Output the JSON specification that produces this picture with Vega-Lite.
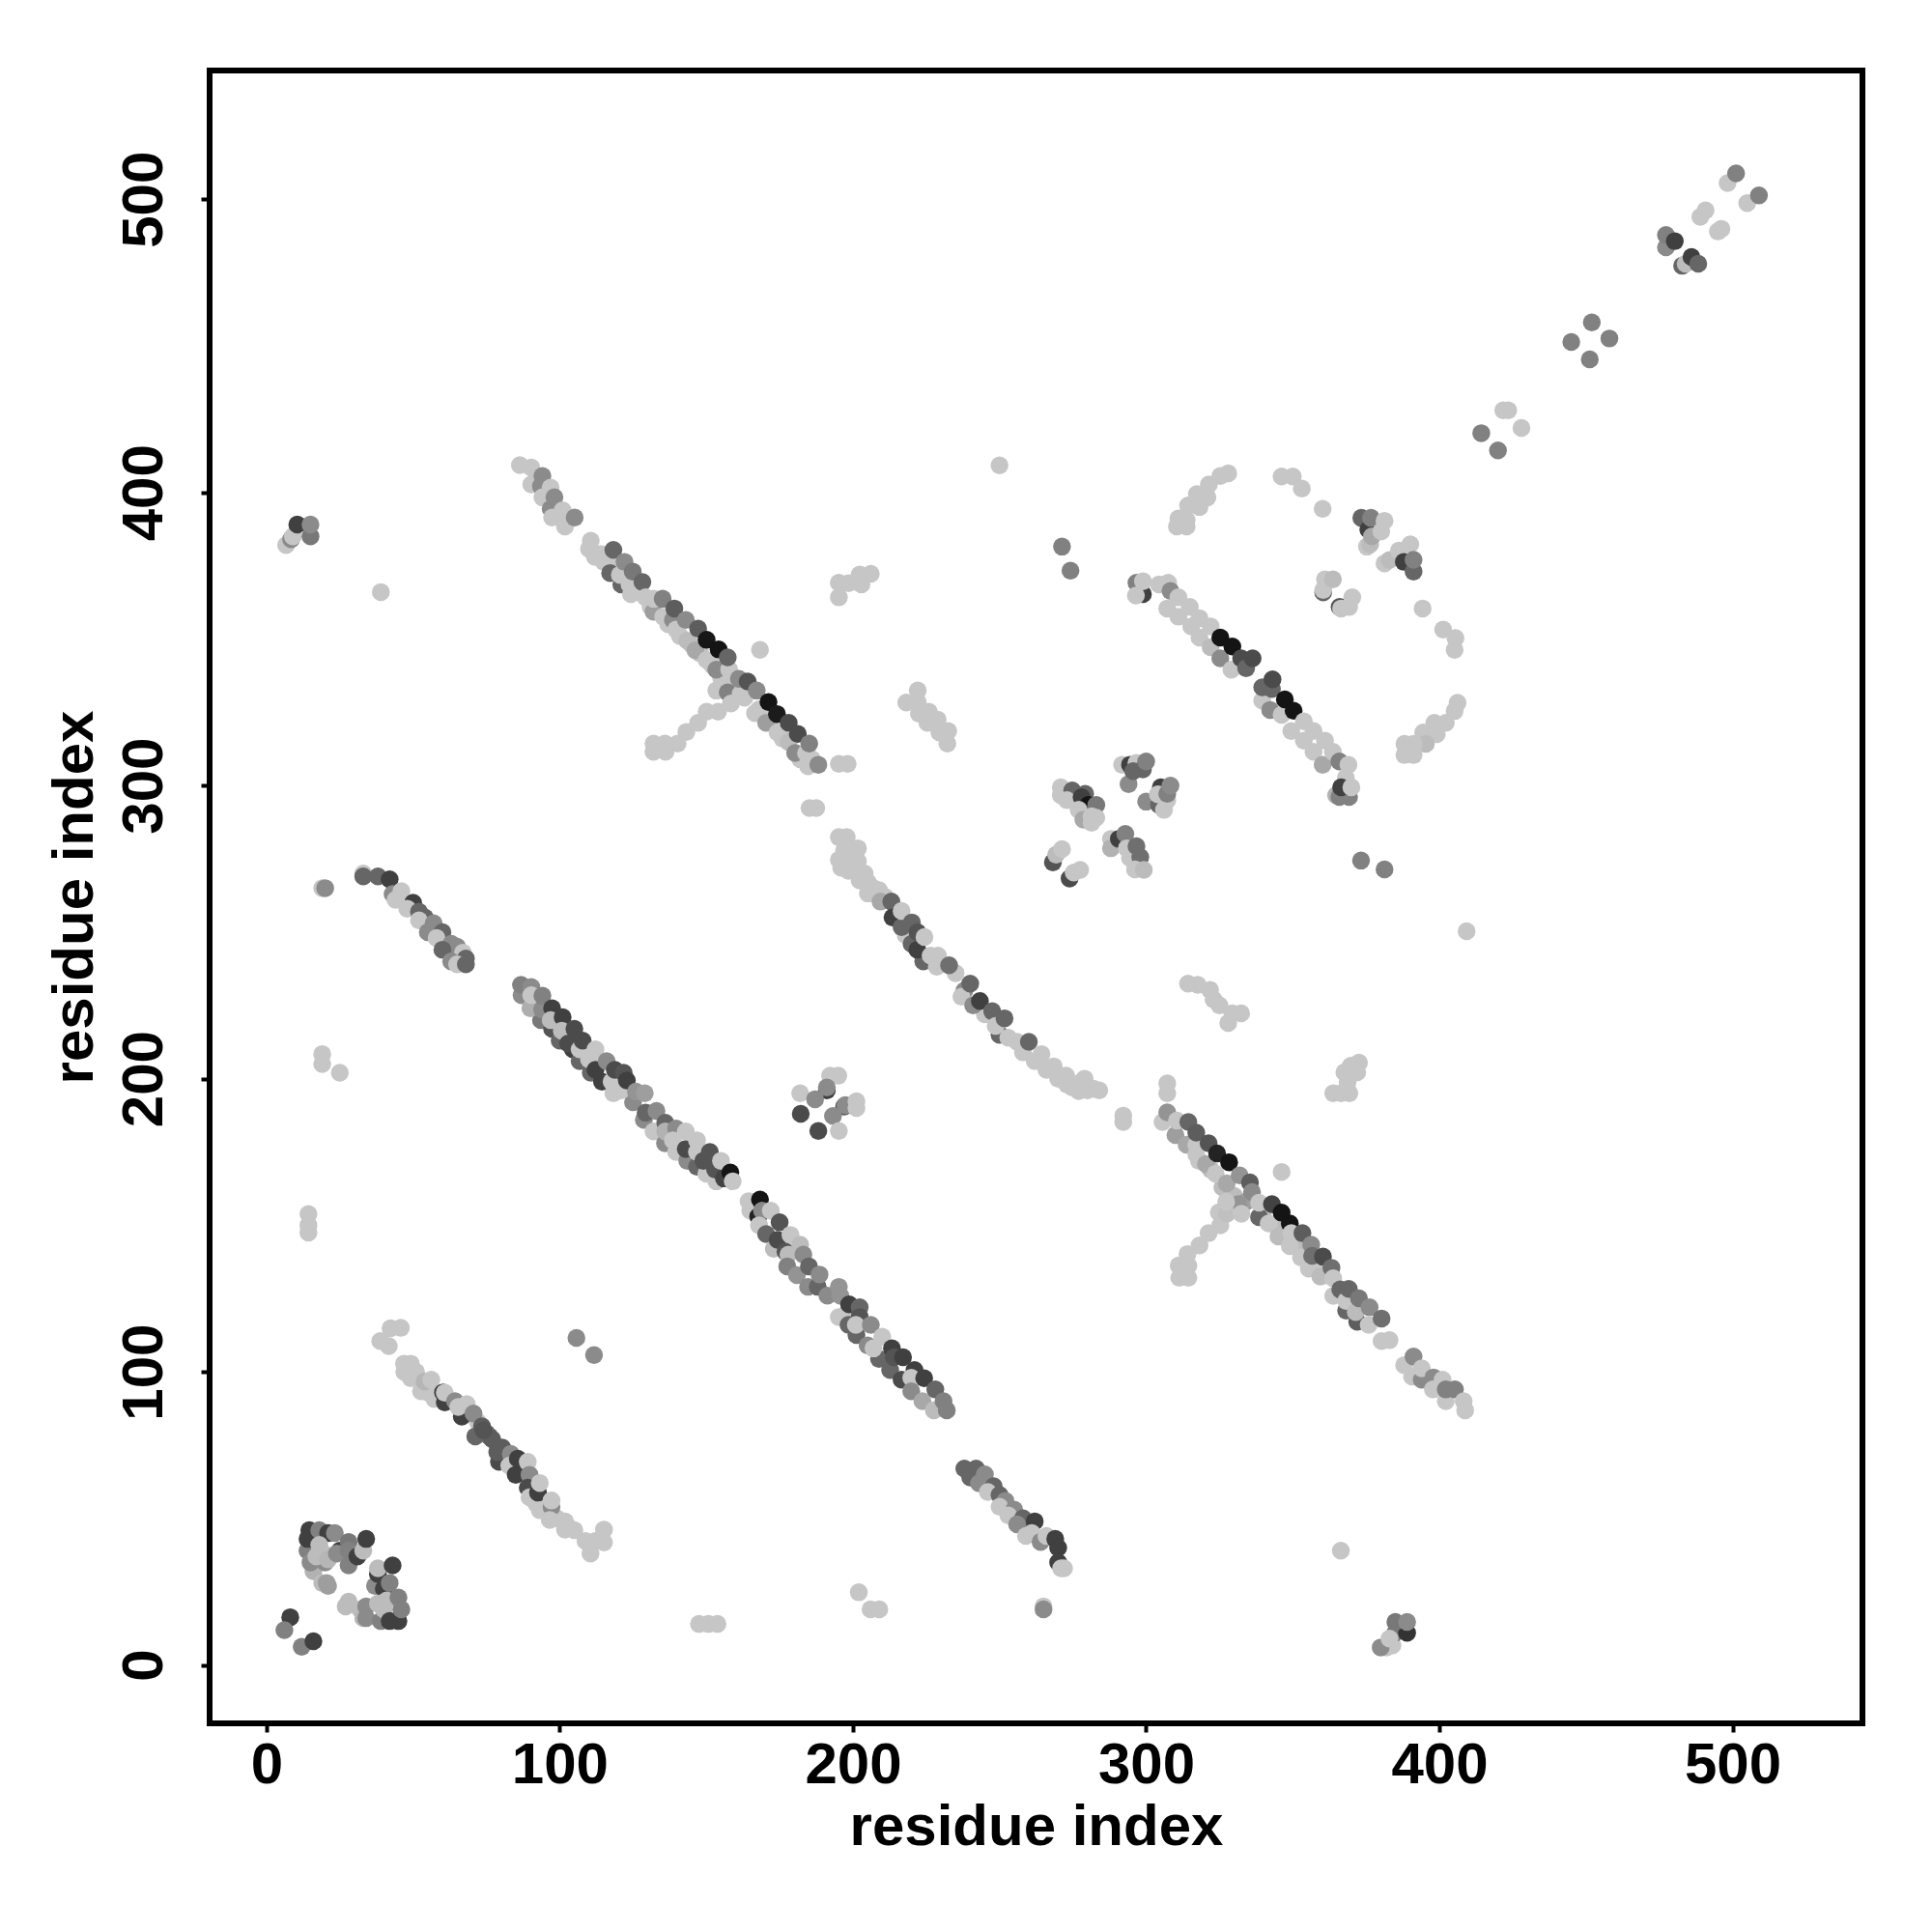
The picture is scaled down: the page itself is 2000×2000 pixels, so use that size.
{"$schema":"https://vega.github.io/schema/vega-lite/v6.json","width":1711,"height":1711,"autosize":{"type":"none"},"padding":{"left":217,"top":73,"right":72,"bottom":216},"background":"white","view":{"stroke":"black","strokeWidth":6,"fill":"white"},"config":{"font":"Liberation Sans","axis":{"grid":false,"domain":false,"tickColor":"black","tickWidth":4,"tickSize":9,"labelFontSize":60,"labelFontWeight":"bold","labelColor":"black","titleFontSize":60,"titleFontWeight":"bold","titleColor":"black","labelFont":"Liberation Sans","titleFont":"Liberation Sans"}},"data":{"values":[
{"x":197,"y":278,"v":0},{"x":199,"y":276,"v":0},{"x":196,"y":272,"v":0},{"x":204,"y":270,"v":0},{"x":200,"y":273,"v":0},{"x":207,"y":265,"v":0},{"x":211,"y":262,"v":0},{"x":218,"y":249,"v":0},{"x":220,"y":246,"v":50},{"x":224,"y":240,"v":50},{"x":229,"y":242,"v":0},{"x":235,"y":236,"v":0},{"x":238,"y":230,"v":30},{"x":245,"y":222,"v":0},{"x":250,"y":215,"v":50},{"x":253,"y":214,"v":0},{"x":258,"y":209,"v":0},{"x":262,"y":206,"v":0},{"x":266,"y":203,"v":0},{"x":270,"y":200,"v":0},{"x":273,"y":198,"v":0},{"x":280,"y":196,"v":0},{"x":284,"y":196,"v":0},{"x":278,"y":199,"v":0},
{"x":114,"y":379,"v":0},{"x":112,"y":378,"v":0},{"x":118,"y":375,"v":0},{"x":127,"y":366,"v":0},{"x":131,"y":361,"v":0},{"x":137,"y":355,"v":0},{"x":141,"y":351,"v":0},{"x":145,"y":348,"v":0},{"x":148,"y":345,"v":0},{"x":152,"y":341,"v":0},{"x":155,"y":337,"v":0},{"x":159,"y":334,"v":0},{"x":163,"y":330,"v":0},{"x":168,"y":326,"v":0},{"x":172,"y":323,"v":0},{"x":176,"y":316,"v":0},{"x":182,"y":309,"v":0},{"x":186,"y":309,"v":0},
{"x":47,"y":100,"v":0},{"x":51,"y":100,"v":0},{"x":55,"y":93,"v":0},{"x":59,"y":91,"v":0},{"x":62,"y":90,"v":0},{"x":68,"y":86,"v":0},{"x":72,"y":83,"v":0},{"x":75,"y":79,"v":50},{"x":76,"y":78,"v":50},{"x":77,"y":77,"v":55},{"x":92,"y":55,"v":0},{"x":99,"y":50,"v":0},{"x":103,"y":47,"v":0},{"x":105,"y":46,"v":0},
{"x":318,"y":172,"v":0},{"x":322,"y":169,"v":5},{"x":326,"y":163,"v":5},{"x":330,"y":160,"v":5},{"x":334,"y":158,"v":20},{"x":340,"y":155,"v":5},{"x":344,"y":150,"v":0},{"x":347,"y":149,"v":5},{"x":351,"y":144,"v":5},{"x":354,"y":141,"v":5},{"x":358,"y":136,"v":0},{"x":361,"y":133,"v":5},
{"x":8.1,"y":16.3,"v":72},{"x":6.1,"y":11.9,"v":35},{"x":12,"y":6.2,"v":35},{"x":16,"y":8.1,"v":72},
{"x":14,"y":39,"v":35},{"x":14.6,"y":46,"v":72},{"x":14,"y":43,"v":72},{"x":18,"y":46,"v":35},{"x":21,"y":45,"v":72},{"x":16,"y":32,"v":10},{"x":15,"y":35,"v":30},{"x":20,"y":35,"v":30},{"x":23.3,"y":45,"v":30},{"x":18,"y":41,"v":5},{"x":19.5,"y":38,"v":5},{"x":17,"y":37,"v":5},{"x":21,"y":36,"v":8},{"x":19,"y":28,"v":5},{"x":20.5,"y":28,"v":20},{"x":21,"y":27,"v":20},{"x":25,"y":39,"v":72},{"x":24,"y":38,"v":30},{"x":28,"y":42,"v":40},{"x":28,"y":39,"v":35},{"x":28,"y":34,"v":35},{"x":31,"y":37,"v":72},{"x":33,"y":39,"v":5},{"x":34,"y":43,"v":72},
{"x":37,"y":27,"v":30},{"x":38,"y":31,"v":72},{"x":40,"y":26,"v":72},{"x":38,"y":33,"v":5},{"x":42,"y":28,"v":35},{"x":43,"y":34,"v":72},
{"x":28,"y":21.6,"v":5},{"x":27,"y":20,"v":5},{"x":32,"y":19,"v":5},{"x":33,"y":16,"v":8},{"x":34,"y":20,"v":30},{"x":34,"y":16,"v":30},{"x":39,"y":15,"v":35},{"x":38,"y":21,"v":5},{"x":41,"y":22,"v":5},{"x":40,"y":19,"v":5},{"x":45,"y":23,"v":35},{"x":42,"y":15,"v":72},{"x":45,"y":15,"v":72},{"x":46,"y":19,"v":35},
{"x":33,"y":270,"v":0},{"x":33,"y":269,"v":50},{"x":38,"y":269,"v":50},{"x":42,"y":268,"v":72},{"x":43,"y":263,"v":30},{"x":46,"y":264,"v":0},{"x":44,"y":261,"v":0},{"x":50,"y":260,"v":72},{"x":48,"y":258,"v":0},{"x":52,"y":257,"v":50},{"x":54,"y":255,"v":50},{"x":52,"y":254,"v":0},{"x":57,"y":253,"v":30},{"x":55,"y":250,"v":30},{"x":60,"y":250,"v":50},{"x":58,"y":248,"v":0},{"x":63,"y":246,"v":30},{"x":65,"y":245,"v":30},{"x":60,"y":244,"v":50},{"x":67,"y":243,"v":0},{"x":63,"y":240,"v":30},{"x":68,"y":241,"v":50},{"x":65,"y":239,"v":0},{"x":68,"y":239,"v":50},{"x":19,"y":265,"v":0},{"x":20,"y":265,"v":30},
{"x":87,"y":228.5,"v":30},{"x":93.6,"y":220,"v":40},{"x":97.4,"y":217,"v":60},{"x":100,"y":213,"v":50},{"x":104.5,"y":210,"v":72},{"x":106.8,"y":206,"v":50},{"x":110.6,"y":202,"v":50},{"x":114.4,"y":199,"v":72},{"x":118.3,"y":195,"v":0},{"x":125,"y":192,"v":30},{"x":128.7,"y":186,"v":30},{"x":132,"y":182,"v":0},{"x":135.9,"y":178,"v":30},{"x":139.7,"y":175,"v":0},{"x":143.5,"y":172,"v":30},{"x":146.8,"y":170,"v":50},{"x":150,"y":167.6,"v":0},{"x":153.4,"y":165,"v":0},
{"x":86.8,"y":232,"v":35},{"x":90.3,"y":231.3,"v":30},{"x":90,"y":224,"v":12},{"x":94,"y":223.6,"v":30},{"x":90.3,"y":228.5,"v":0},{"x":94.1,"y":228.3,"v":35},{"x":97.4,"y":224,"v":72},{"x":96.9,"y":220,"v":5},{"x":101,"y":221,"v":72},{"x":100.7,"y":216.4,"v":5},{"x":102.9,"y":212,"v":65},{"x":105,"y":217,"v":65},{"x":106.8,"y":210,"v":0},{"x":107.8,"y":213,"v":65},{"x":110,"y":206.6,"v":0},{"x":112.2,"y":203,"v":72},{"x":112.2,"y":210,"v":0},{"x":116,"y":206,"v":30},{"x":117.7,"y":199,"v":0},{"x":118.8,"y":203,"v":65},{"x":121,"y":196,"v":0},{"x":121.8,"y":202,"v":60},{"x":122.9,"y":199.4,"v":72},{"x":126,"y":195.6,"v":25},{"x":129,"y":195,"v":20},{"x":129.3,"y":188.4,"v":50},{"x":133,"y":189,"v":30},{"x":136,"y":185,"v":50},{"x":136,"y":182,"v":10},{"x":139.7,"y":183,"v":30},{"x":138.6,"y":179,"v":0},{"x":143,"y":176,"v":65},{"x":143,"y":182,"v":0},{"x":146.8,"y":175,"v":0},{"x":146.8,"y":179,"v":0},{"x":149,"y":172,"v":60},{"x":151.2,"y":175,"v":60},{"x":153,"y":169,"v":60},{"x":155,"y":172,"v":0},{"x":156,"y":166,"v":70},{"x":158.2,"y":168,"v":100},{"x":159,"y":165,"v":0},
{"x":165,"y":155,"v":0},{"x":164.4,"y":158.2,"v":0},{"x":168.3,"y":158.8,"v":100},{"x":167.7,"y":153,"v":90},{"x":169,"y":155,"v":30},{"x":168,"y":150,"v":0},{"x":172,"y":155,"v":0},{"x":175,"y":151,"v":60},{"x":170.4,"y":147,"v":50},{"x":173,"y":142,"v":5},{"x":174.3,"y":145,"v":65},{"x":178.7,"y":146.7,"v":0},{"x":177,"y":141,"v":60},{"x":182,"y":143.4,"v":5},{"x":178,"y":140,"v":5},{"x":183.1,"y":140,"v":30},{"x":177.6,"y":136,"v":35},{"x":180.9,"y":133,"v":25},{"x":185,"y":136,"v":50},{"x":184.7,"y":129,"v":30},{"x":188,"y":129,"v":50},{"x":188.6,"y":133.2,"v":30},{"x":191.3,"y":126,"v":30},{"x":195.2,"y":129,"v":25},{"x":195.7,"y":126,"v":25},{"x":195.2,"y":118.7,"v":0},{"x":197.9,"y":120,"v":0},{"x":198.5,"y":116,"v":50},{"x":198.7,"y":123,"v":72},{"x":201.2,"y":112.6,"v":50},{"x":202.3,"y":122,"v":50},{"x":202.3,"y":118.7,"v":60},{"x":201,"y":116,"v":0},{"x":205,"y":109,"v":30},{"x":206.1,"y":116,"v":30},{"x":208.9,"y":104.4,"v":50},{"x":210,"y":112,"v":0},{"x":207,"y":108,"v":0},{"x":213.3,"y":108,"v":72},{"x":212.7,"y":100.6,"v":50},{"x":214,"y":105,"v":60},{"x":217.1,"y":105,"v":72},{"x":216.6,"y":97.3,"v":65},{"x":221,"y":100.6,"v":72},{"x":219.9,"y":98,"v":0},{"x":224.3,"y":97.8,"v":72},{"x":219.9,"y":93.4,"v":30},{"x":223.7,"y":90,"v":15},{"x":228.1,"y":94,"v":50},{"x":227.6,"y":86.9,"v":5},{"x":230.9,"y":90,"v":35},{"x":232,"y":86.9,"v":35},
{"x":192.2,"y":201,"v":0},{"x":195,"y":201,"v":0},{"x":191.1,"y":196,"v":72},{"x":191.1,"y":197,"v":30},{"x":182,"y":195,"v":0},{"x":187.1,"y":193,"v":30},{"x":197,"y":190.5,"v":60},{"x":197.4,"y":191,"v":30},{"x":201.2,"y":192.3,"v":0},{"x":201.2,"y":190,"v":0},{"x":182.2,"y":188,"v":65},{"x":193.2,"y":187.3,"v":30},{"x":188.2,"y":182.2,"v":65},{"x":195.2,"y":182.2,"v":0},{"x":105.7,"y":111.6,"v":30},{"x":111.7,"y":105.7,"v":30},
{"x":42.3,"y":114.9,"v":0},{"x":45.8,"y":115,"v":0},{"x":38.8,"y":110.5,"v":0},{"x":41.7,"y":108.8,"v":0},{"x":46.9,"y":102.8,"v":0},{"x":49.2,"y":102.8,"v":0},{"x":49.2,"y":97.8,"v":0},{"x":52.7,"y":93.4,"v":0},{"x":53.9,"y":96.7,"v":8},{"x":56.2,"y":97.3,"v":0},{"x":57.3,"y":90.7,"v":0},{"x":60.2,"y":93,"v":72},{"x":60.8,"y":89.6,"v":72},{"x":60.8,"y":92.9,"v":0},{"x":64.3,"y":90,"v":30},{"x":66.6,"y":84.7,"v":72},{"x":65.4,"y":88,"v":0},{"x":68.3,"y":89,"v":0},{"x":70.6,"y":85.8,"v":30},{"x":71.2,"y":78,"v":50},{"x":73.5,"y":81.4,"v":55},{"x":74,"y":80,"v":60},{"x":79.3,"y":69.3,"v":65},{"x":78.7,"y":72.6,"v":55},{"x":80.4,"y":74.2,"v":55},{"x":83.3,"y":72,"v":30},{"x":82.8,"y":68,"v":0},{"x":85,"y":64.9,"v":72},{"x":85.7,"y":70.4,"v":72},{"x":89.1,"y":69.3,"v":0},{"x":89.7,"y":64.9,"v":30},{"x":89.1,"y":60.5,"v":65},{"x":89.7,"y":57.2,"v":0},{"x":92.6,"y":58.8,"v":72},{"x":93.2,"y":62.1,"v":0},{"x":93.2,"y":52.8,"v":0},{"x":97.2,"y":53.9,"v":30},{"x":97.2,"y":56.1,"v":0},{"x":96.6,"y":49.5,"v":0},{"x":101.8,"y":49,"v":0},{"x":101.8,"y":46.2,"v":0},{"x":108.8,"y":42.3,"v":0},{"x":112.2,"y":42.3,"v":0},{"x":115.1,"y":46.2,"v":0},{"x":115.1,"y":41.8,"v":0},{"x":110.5,"y":38,"v":0},{"x":147.5,"y":14,"v":0},{"x":150.7,"y":14,"v":0},{"x":153.8,"y":14,"v":0},
{"x":238,"y":67,"v":50},{"x":242,"y":67,"v":50},{"x":240,"y":64,"v":50},{"x":245,"y":65,"v":30},{"x":243,"y":62,"v":30},{"x":248,"y":61,"v":50},{"x":246,"y":59,"v":0},{"x":250,"y":58,"v":50},{"x":252,"y":56,"v":30},{"x":250,"y":54,"v":0},{"x":255,"y":53,"v":30},{"x":253,"y":51,"v":0},{"x":258,"y":50,"v":50},{"x":256,"y":48,"v":30},{"x":262,"y":49,"v":72},{"x":259,"y":44,"v":0},{"x":261,"y":45,"v":0},{"x":264,"y":42,"v":30},{"x":266,"y":44,"v":0},{"x":269,"y":43,"v":72},{"x":270,"y":40,"v":72},{"x":270,"y":35,"v":72},{"x":271,"y":33,"v":0},{"x":272,"y":33,"v":0},{"x":265,"y":20,"v":0},{"x":265,"y":19,"v":30},{"x":366.4,"y":39,"v":0},{"x":382,"y":6,"v":0},{"x":384,"y":6.7,"v":0},{"x":380,"y":6,"v":30},{"x":385,"y":11,"v":40},{"x":389,"y":11,"v":80},{"x":385,"y":14.7,"v":40},{"x":389,"y":14.7,"v":30},{"x":383,"y":9,"v":0},{"x":202,"y":24.8,"v":0},{"x":206,"y":19,"v":0},{"x":209,"y":19,"v":0},{"x":39,"y":366,"v":0},{"x":14.3,"y":153.8,"v":0},{"x":14.3,"y":150,"v":0},{"x":14.3,"y":147.5,"v":0},{"x":19,"y":208.4,"v":0},{"x":19,"y":205,"v":0},{"x":25,"y":202,"v":0},{"x":6.7,"y":382,"v":0},{"x":8.4,"y":384,"v":30},{"x":9,"y":385,"v":0},{"x":10.5,"y":389,"v":72},{"x":15,"y":385,"v":40},{"x":15,"y":389,"v":30},
{"x":86.4,"y":409.3,"v":0},{"x":90.3,"y":408.5,"v":0},{"x":90.3,"y":402.7,"v":0},{"x":93.6,"y":402.1,"v":30},{"x":94.1,"y":405.6,"v":30},{"x":94.1,"y":398.3,"v":0},{"x":96.9,"y":401.6,"v":0},{"x":96.9,"y":394.4,"v":30},{"x":97.4,"y":391.4,"v":0},{"x":98.2,"y":398.3,"v":30},{"x":101.8,"y":388.4,"v":0},{"x":101,"y":393.9,"v":0},{"x":105.1,"y":391.4,"v":30},{"x":110.6,"y":383.5,"v":0},{"x":110,"y":380.7,"v":0},{"x":115,"y":376.3,"v":0},{"x":117.2,"y":372.5,"v":50},{"x":118.3,"y":380.4,"v":50},{"x":121,"y":368.6,"v":50},{"x":120.5,"y":371.9,"v":0},{"x":122.1,"y":376.3,"v":30},{"x":124.3,"y":365.3,"v":0},{"x":123.8,"y":368.6,"v":0},{"x":124.9,"y":373,"v":40},{"x":128.2,"y":369.4,"v":50},{"x":129.3,"y":364.2,"v":0},{"x":132,"y":359.3,"v":20},{"x":132,"y":363.7,"v":0},{"x":135.3,"y":357.6,"v":0},{"x":135.1,"y":363.7,"v":35},{"x":138.6,"y":356.5,"v":30},{"x":139.7,"y":353.2,"v":0},{"x":139.1,"y":360.4,"v":55},{"x":143,"y":356.5,"v":30},{"x":143.5,"y":349.4,"v":5},{"x":146.3,"y":346.1,"v":15},{"x":147.2,"y":353.5,"v":55},{"x":150.1,"y":342.8,"v":0},{"x":150.1,"y":349.7,"v":98},{"x":153.4,"y":339.5,"v":30},{"x":153.4,"y":332.4,"v":0},{"x":154.2,"y":346.4,"v":100},{"x":157.3,"y":331.8,"v":35},{"x":157.8,"y":339.5,"v":0},{"x":157.3,"y":343.7,"v":50},{"x":161.7,"y":331.3,"v":0},{"x":161.1,"y":336.4,"v":30},{"x":164.1,"y":335.5,"v":60},{"x":166.6,"y":324.7,"v":0},{"x":167.2,"y":332.4,"v":30},{"x":170.4,"y":321.4,"v":20},{"x":171.2,"y":328.5,"v":100},{"x":174.1,"y":324.4,"v":95},{"x":174.3,"y":318.1,"v":0},{"x":178.1,"y":314.8,"v":5},{"x":178.1,"y":321.4,"v":65},{"x":180.3,"y":311.1,"v":30},{"x":181.2,"y":317.6,"v":65},{"x":184,"y":311,"v":0},{"x":185.1,"y":314.3,"v":35},{"x":184.7,"y":306.6,"v":0},{"x":188.2,"y":307.1,"v":30},
{"x":132,"y":314.3,"v":0},{"x":132,"y":311.5,"v":0},{"x":135.9,"y":314.3,"v":0},{"x":136.1,"y":311.5,"v":0},{"x":140.2,"y":314.3,"v":0},{"x":143.2,"y":318.3,"v":0},{"x":147.2,"y":321.4,"v":0},{"x":150.1,"y":325.2,"v":0},{"x":154,"y":325.2,"v":0},{"x":158.4,"y":328,"v":0},{"x":168.3,"y":346.3,"v":0},{"x":195.2,"y":307.4,"v":0},{"x":198.2,"y":307.4,"v":0},{"x":185.2,"y":292.3,"v":0},{"x":187.5,"y":292.3,"v":0},{"x":195.2,"y":369.2,"v":0},{"x":195.2,"y":364.2,"v":0},{"x":198.5,"y":369,"v":0},{"x":202.3,"y":372,"v":0},{"x":206.1,"y":372.2,"v":0},{"x":202.9,"y":368.6,"v":0},{"x":222.1,"y":332.4,"v":0},{"x":218.2,"y":328.3,"v":0},{"x":222.1,"y":328.5,"v":0},{"x":225.9,"y":325.2,"v":0},{"x":222.5,"y":324.5,"v":0},{"x":228.9,"y":322.5,"v":0},{"x":225.4,"y":321.4,"v":0},{"x":232.5,"y":318.6,"v":0},{"x":229.5,"y":318.1,"v":0},{"x":232.2,"y":314.3,"v":0},
{"x":195.2,"y":282.4,"v":0},{"x":197.9,"y":282.4,"v":0},{"x":195.2,"y":274.7,"v":0},{"x":201.7,"y":278.6,"v":0},{"x":201.7,"y":274.2,"v":0},{"x":198.5,"y":270.9,"v":0},{"x":202.3,"y":267.6,"v":0},{"x":205.1,"y":267,"v":0},{"x":205.1,"y":263.2,"v":0},{"x":208.9,"y":264.3,"v":0},{"x":209.4,"y":260.4,"v":15},{"x":213.1,"y":260.4,"v":50},{"x":213.5,"y":255,"v":72},{"x":216.6,"y":251.7,"v":50},{"x":216.6,"y":257.2,"v":0},{"x":220.1,"y":253.3,"v":50},{"x":222,"y":244,"v":72},{"x":222,"y":250,"v":60},{"x":224.4,"y":248.3,"v":0},{"x":226.5,"y":242,"v":0},{"x":228.6,"y":238.2,"v":0},{"x":232.8,"y":238.7,"v":45},{"x":237,"y":228,"v":0},{"x":240,"y":232.4,"v":50},{"x":241,"y":225,"v":30},{"x":243.3,"y":226.5,"v":72},{"x":247.5,"y":223,"v":50},{"x":248.7,"y":218,"v":0},{"x":251.7,"y":220.6,"v":50},{"x":256,"y":212.6,"v":0},{"x":260,"y":212.6,"v":50},{"x":264.3,"y":208.4,"v":0},{"x":268.5,"y":204.2,"v":0},{"x":272.7,"y":201,"v":0},{"x":279,"y":200,"v":0},{"x":277,"y":195.8,"v":0},{"x":282,"y":196.6,"v":0},{"x":274.8,"y":197,"v":0},{"x":250,"y":409.2,"v":0},
{"x":296.7,"y":369.2,"v":35},{"x":298.9,"y":365.3,"v":72},{"x":296.5,"y":364.8,"v":0},{"x":298.9,"y":369.7,"v":0},{"x":304.4,"y":368.6,"v":0},{"x":307.2,"y":360.4,"v":0},{"x":307.5,"y":369.2,"v":0},{"x":308.3,"y":366.4,"v":30},{"x":311,"y":357.6,"v":0},{"x":311,"y":364.2,"v":0},{"x":314.9,"y":360.9,"v":0},{"x":315.4,"y":354.3,"v":0},{"x":318.2,"y":350.5,"v":0},{"x":318.2,"y":357.1,"v":0},{"x":322,"y":354.3,"v":0},{"x":322,"y":347.2,"v":5},{"x":325.3,"y":343.4,"v":30},{"x":325.3,"y":350.5,"v":100},{"x":329.1,"y":339.5,"v":0},{"x":329.4,"y":347.4,"v":100},{"x":332.4,"y":343.4,"v":65},{"x":334.1,"y":340,"v":50},{"x":336.3,"y":343.4,"v":65},{"x":339.6,"y":329,"v":0},{"x":339.6,"y":333.5,"v":50},{"x":342.3,"y":325.8,"v":30},{"x":342.9,"y":332.9,"v":50},{"x":343.1,"y":336.2,"v":65},{"x":346.2,"y":324.1,"v":0},{"x":347.3,"y":329.4,"v":100},{"x":349.5,"y":318.6,"v":0},{"x":350.3,"y":325.5,"v":100},{"x":353.8,"y":315.3,"v":0},{"x":353.8,"y":321.9,"v":0},{"x":357.1,"y":311.5,"v":0},{"x":357.1,"y":318.6,"v":0},{"x":360.2,"y":307.1,"v":15},{"x":361,"y":315.3,"v":0},{"x":363.7,"y":311.5,"v":0},{"x":365.9,"y":308.2,"v":35},{"x":369,"y":307.1,"v":0},{"x":368.1,"y":302.7,"v":0},{"x":364.8,"y":296.7,"v":10},{"x":365.9,"y":296.1,"v":35},{"x":369.2,"y":296.1,"v":35},{"x":366.5,"y":299.4,"v":72},{"x":370,"y":299.4,"v":0},
{"x":271.3,"y":381.5,"v":35},{"x":274.2,"y":373.3,"v":35},{"x":328,"y":406.5,"v":0},{"x":325.3,"y":405.6,"v":0},{"x":321.4,"y":402.7,"v":0},{"x":320.9,"y":398.3,"v":0},{"x":317.3,"y":399.4,"v":0},{"x":318.2,"y":395,"v":0},{"x":314.3,"y":395.5,"v":0},{"x":311,"y":391.1,"v":0},{"x":313.8,"y":390.6,"v":0},{"x":310.5,"y":388.4,"v":0},{"x":313.8,"y":388.4,"v":0},{"x":346.2,"y":405.4,"v":0},{"x":350,"y":405.4,"v":0},{"x":353.1,"y":401.3,"v":0},{"x":360.2,"y":394.4,"v":0},{"x":373.4,"y":391.3,"v":50},{"x":375.8,"y":387.3,"v":72},{"x":376.7,"y":391.3,"v":35},{"x":375.3,"y":381.5,"v":0},{"x":376.4,"y":382.3,"v":5},{"x":377,"y":385,"v":15},{"x":380.2,"y":386.7,"v":0},{"x":381.3,"y":390.3,"v":0},{"x":381.3,"y":375.8,"v":0},{"x":383,"y":376.9,"v":5},{"x":386.2,"y":380.1,"v":0},{"x":390.1,"y":382.3,"v":0},{"x":387.9,"y":376.3,"v":72},{"x":391.2,"y":373,"v":50},{"x":391.2,"y":377,"v":35},{"x":394.3,"y":360.4,"v":0},{"x":401.3,"y":353.2,"v":0},{"x":405.5,"y":350.3,"v":0},{"x":405.2,"y":346.3,"v":0},{"x":406.2,"y":328.2,"v":0},{"x":405.2,"y":325.4,"v":0},{"x":402.2,"y":321.4,"v":0},{"x":398.3,"y":321.4,"v":0},{"x":394.5,"y":318.1,"v":0},{"x":399.1,"y":317.5,"v":0},{"x":395.4,"y":314.2,"v":5},{"x":391.2,"y":314.2,"v":0},{"x":388.1,"y":314.2,"v":0},{"x":388.1,"y":310.4,"v":0},{"x":391.2,"y":310.4,"v":0},{"x":360.4,"y":365.9,"v":50},{"x":360.4,"y":366.7,"v":0},{"x":361,"y":370.3,"v":0},{"x":363.7,"y":370.3,"v":5},{"x":366,"y":360.9,"v":60},{"x":366.5,"y":360.4,"v":0},{"x":369.2,"y":360.9,"v":0},{"x":370.3,"y":364.2,"v":0},{"x":373.3,"y":274.4,"v":35},{"x":381.3,"y":271.4,"v":35},{"x":409.3,"y":250.3,"v":0},
{"x":270.9,"y":299.4,"v":0},{"x":270.9,"y":296.7,"v":0},{"x":274.8,"y":298.3,"v":50},{"x":273,"y":295,"v":0},{"x":279.2,"y":297.2,"v":50},{"x":278,"y":296,"v":72},{"x":280.3,"y":293.4,"v":100},{"x":283,"y":293.4,"v":40},{"x":277,"y":291.7,"v":0},{"x":278.6,"y":288.4,"v":15},{"x":281.4,"y":289.5,"v":0},{"x":283,"y":289,"v":0},{"x":281.4,"y":287.3,"v":0},{"x":291.8,"y":307.1,"v":0},{"x":294.5,"y":307.1,"v":72},{"x":296.7,"y":307.7,"v":0},{"x":294,"y":300.5,"v":30},{"x":295.6,"y":304.9,"v":50},{"x":298.9,"y":305.5,"v":50},{"x":300,"y":308.2,"v":35},{"x":300,"y":294.5,"v":30},{"x":305,"y":299.4,"v":72},{"x":304.4,"y":293.4,"v":50},{"x":304,"y":297,"v":0},{"x":306.1,"y":291.7,"v":0},{"x":307.2,"y":295,"v":0},{"x":307.2,"y":297.2,"v":35},{"x":308.3,"y":300,"v":30},{"x":268.2,"y":273.8,"v":60},{"x":269.3,"y":276.4,"v":5},{"x":271.3,"y":278.3,"v":0},{"x":273.9,"y":268.3,"v":65},{"x":275.3,"y":270.3,"v":0},{"x":277.5,"y":271.2,"v":0},{"x":288,"y":281.8,"v":0},{"x":288,"y":278.6,"v":10},{"x":290.7,"y":281.8,"v":72},{"x":292.9,"y":283.5,"v":35},{"x":293.4,"y":278.6,"v":0},{"x":294.5,"y":275.3,"v":0},{"x":296.7,"y":279.3,"v":45},{"x":298,"y":275.6,"v":45},{"x":296.2,"y":271.4,"v":0},{"x":299.2,"y":271.2,"v":5},
{"x":307.2,"y":198.4,"v":0},{"x":307.2,"y":195,"v":0},{"x":292.2,"y":187.4,"v":0},{"x":292.2,"y":185.2,"v":0},{"x":305.6,"y":185.2,"v":0},{"x":307.2,"y":188.5,"v":25},{"x":310,"y":180.8,"v":20},{"x":310.5,"y":185.7,"v":0},{"x":313.8,"y":177.5,"v":15},{"x":314.4,"y":185.2,"v":50},{"x":317.1,"y":174.2,"v":0},{"x":317.1,"y":177.5,"v":0},{"x":317.1,"y":181.6,"v":55},{"x":320.4,"y":170.9,"v":15},{"x":321.3,"y":178,"v":60},{"x":323.7,"y":167.6,"v":0},{"x":324.2,"y":174.5,"v":90},{"x":327.5,"y":164.3,"v":15},{"x":328.3,"y":171.5,"v":100},{"x":331.4,"y":157.2,"v":25},{"x":331.9,"y":167,"v":25},{"x":335.4,"y":164.6,"v":55},{"x":336.1,"y":161.3,"v":30},{"x":311.1,"y":136.3,"v":0},{"x":314.4,"y":136.3,"v":0},{"x":311.3,"y":132.1,"v":0},{"x":314.4,"y":132.1,"v":0},{"x":314.1,"y":140.2,"v":0},{"x":318.2,"y":143.1,"v":0},{"x":321.3,"y":147.3,"v":0},{"x":325.3,"y":150,"v":0},{"x":324.8,"y":154.4,"v":0},{"x":327.5,"y":153.9,"v":3},{"x":327.3,"y":158,"v":0},{"x":332.5,"y":153.9,"v":0},{"x":338.5,"y":152.8,"v":50},{"x":338.5,"y":157.7,"v":0},{"x":341.8,"y":150.6,"v":0},{"x":342.9,"y":157.2,"v":70},{"x":345.1,"y":146.2,"v":5},{"x":346.2,"y":154.3,"v":100},{"x":349,"y":142.9,"v":0},{"x":349,"y":150.6,"v":100},{"x":349.5,"y":147.3,"v":0},{"x":353.3,"y":147.3,"v":55},{"x":352.8,"y":139,"v":0},{"x":356.3,"y":143.4,"v":30},{"x":355.5,"y":135.2,"v":0},{"x":356.6,"y":139.6,"v":45},{"x":359.4,"y":132.5,"v":5},{"x":360.3,"y":139.3,"v":65},{"x":363.2,"y":135.5,"v":45},{"x":363.8,"y":131.9,"v":0},{"x":363.8,"y":125.9,"v":0},{"x":366.2,"y":128.1,"v":50},{"x":368.2,"y":120.9,"v":50},{"x":368.2,"y":124.2,"v":0},{"x":369.1,"y":128.3,"v":50},{"x":372,"y":117.1,"v":55},{"x":371.5,"y":120.4,"v":5},{"x":372.6,"y":125.1,"v":40},{"x":376.2,"y":122,"v":30},{"x":375.9,"y":116,"v":0},{"x":380.3,"y":118.2,"v":45},{"x":380.3,"y":110.5,"v":0},{"x":383,"y":110.8,"v":0},{"x":388,"y":102.3,"v":0},{"x":391.2,"y":105.2,"v":30},{"x":390.7,"y":98.4,"v":0},{"x":394,"y":97.3,"v":30},{"x":394,"y":101.2,"v":0},{"x":398,"y":98.1,"v":30},{"x":397.8,"y":94,"v":0},{"x":401.1,"y":97.3,"v":0},{"x":402.2,"y":90,"v":0},{"x":402.2,"y":94,"v":35},{"x":405.3,"y":94,"v":35},{"x":408.3,"y":90,"v":0},{"x":408.8,"y":86.9,"v":0},{"x":346.2,"y":168.2,"v":0},{"x":363.8,"y":195,"v":0},{"x":366.5,"y":195,"v":0},{"x":369.3,"y":195,"v":0},{"x":368.7,"y":198.9,"v":0},{"x":367.6,"y":202.2,"v":0},{"x":372,"y":202.2,"v":0},{"x":369.8,"y":204.4,"v":0},{"x":372.6,"y":205.5,"v":0},{"x":314.3,"y":232.4,"v":0},{"x":317.6,"y":232,"v":0},{"x":321.8,"y":230.3,"v":0},{"x":323,"y":227,"v":0},{"x":325,"y":225,"v":0},{"x":329.4,"y":222.3,"v":0},{"x":332.4,"y":222.3,"v":0},{"x":328,"y":219,"v":0},
{"x":414.3,"y":420.2,"v":35},{"x":420,"y":414.3,"v":35},{"x":421.8,"y":428,"v":0},{"x":423.5,"y":428,"v":0},{"x":428,"y":422,"v":0},{"x":445,"y":451.3,"v":35},{"x":452,"y":458,"v":35},{"x":451.3,"y":445.4,"v":35},{"x":458,"y":452.5,"v":35},{"x":477.3,"y":483.6,"v":30},{"x":477.3,"y":487.8,"v":35},{"x":480.3,"y":485.7,"v":72},{"x":482.8,"y":477.3,"v":50},{"x":484,"y":478,"v":5},{"x":486,"y":480.3,"v":72},{"x":488.3,"y":478,"v":50},{"x":489,"y":494,"v":0},{"x":490.8,"y":496.2,"v":0},{"x":495,"y":489,"v":0},{"x":496.2,"y":489.9,"v":0},{"x":498.3,"y":505.5,"v":0},{"x":501.2,"y":508.8,"v":35},{"x":505,"y":498.7,"v":0},{"x":509,"y":501.3,"v":35}
]},"mark":{"type":"circle","opacity":1,"size":342},"encoding":{"x":{"field":"x","type":"quantitative","scale":{"domain":[-19.4,544.3],"nice":false,"zero":false},"axis":{"values":[0,100,200,300,400,500],"title":"residue index","labelPadding":5,"titlePadding":5,"labelFlush":false,"labelOverlap":false}},"y":{"field":"y","type":"quantitative","scale":{"domain":[-19.9,543.9],"nice":false,"zero":false},"axis":{"values":[0,100,200,300,400,500],"title":"residue index","labelAngle":-90,"labelAlign":"center","labelBaseline":"bottom","labelPadding":28,"titlePadding":11,"labelOverlap":false}},"color":{"field":"v","type":"quantitative","legend":null,"scale":{"domain":[0,100],"range":["#c6c6c6","#141414"]}}}}
